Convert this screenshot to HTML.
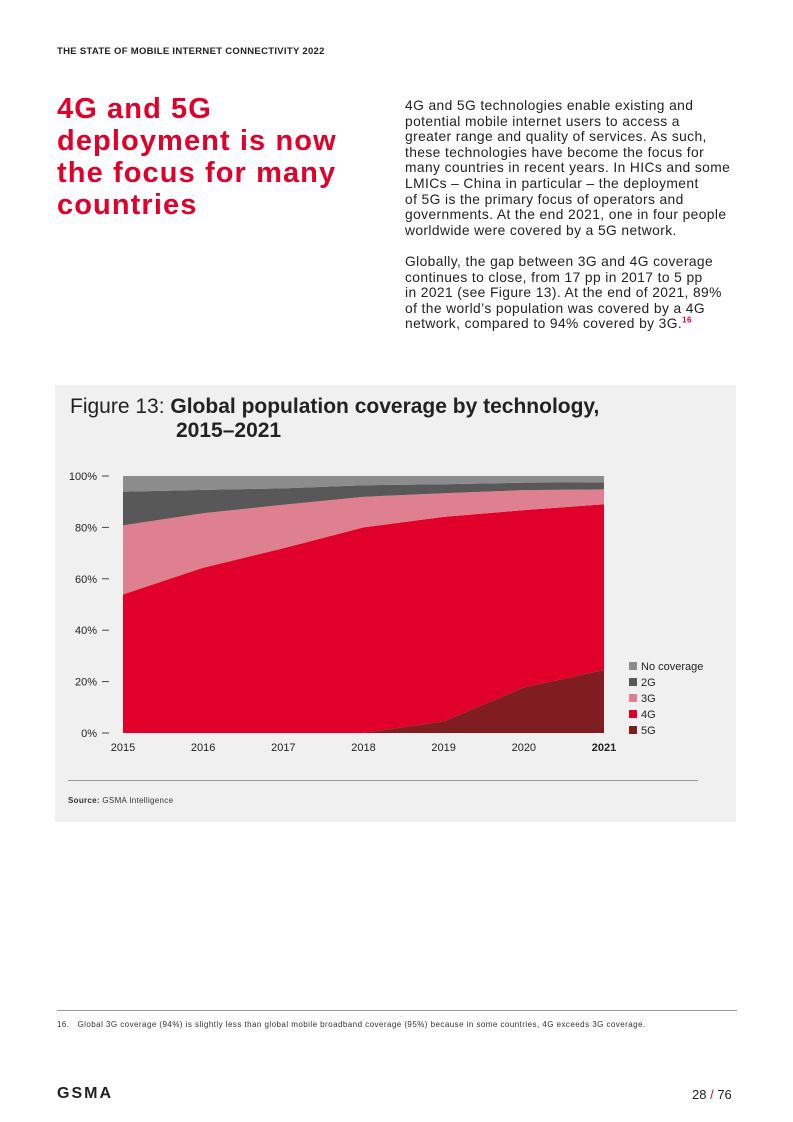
<!DOCTYPE html>
<html><head><meta charset="utf-8"><style>
body{margin:0;width:793px;height:1122px;background:#fff;font-family:"Liberation Sans",sans-serif;position:relative;overflow:hidden;color:#222}
.abs{position:absolute}
</style></head><body>
<div class="abs" style="left:57px;top:46px;font-size:9.5px;font-weight:bold;color:#222;letter-spacing:0.3px">THE STATE OF MOBILE INTERNET CONNECTIVITY 2022</div>
<div class="abs" style="left:57px;top:93px;width:310px;font-size:29px;line-height:32px;font-weight:bold;color:#e0002a;letter-spacing:1.1px">4G and 5G deployment is now the focus for many countries</div>
<div class="abs" style="left:405px;top:98px;width:340px;white-space:nowrap;font-size:13.8px;line-height:15.6px;color:#222;letter-spacing:0.4px">4G and 5G technologies enable existing and<br>potential mobile internet users to access a<br>greater range and quality of services. As such,<br>these technologies have become the focus for<br>many countries in recent years. In HICs and some<br>LMICs – China in particular – the deployment<br>of 5G is the primary focus of operators and<br>governments. At the end 2021, one in four people<br>worldwide were covered by a 5G network.<br><br>Globally, the gap between 3G and 4G coverage<br>continues to close, from 17 pp in 2017 to 5 pp<br>in 2021 (see Figure 13). At the end of 2021, 89%<br>of the world’s population was covered by a 4G<br>network, compared to 94% covered by 3G.<sup style="color:#e0002a;font-size:8px;font-weight:bold;line-height:0">16</sup></div>
<div class="abs" style="left:55px;top:385px;width:681px;height:437px;background:#f0f0f0"></div>
<div class="abs" style="left:70px;top:395px;font-size:21px;line-height:24px;color:#222">Figure 13: <b>Global population coverage by technology,</b><br><b style="padding-left:106px">2015–2021</b></div>
<svg class="abs" style="left:0;top:0" width="793" height="1122">
<g id="chart"></g>
</svg>
<div class="abs" style="left:68px;top:780px;width:630px;height:1px;background:#999"></div>
<div class="abs" style="left:68px;top:796px;font-size:8px;color:#333;letter-spacing:0.3px"><b>Source:</b> GSMA Intelligence</div>
<div class="abs" style="left:57px;top:1010px;width:680px;height:1px;background:#999"></div>
<div class="abs" style="left:57px;top:1020px;font-size:8px;color:#333;letter-spacing:0.45px">16.&nbsp;&nbsp;&nbsp;Global 3G coverage (94%) is slightly less than global mobile broadband coverage (95%) because in some countries, 4G exceeds 3G coverage.</div>
<div class="abs" style="left:57px;top:1085px;font-size:16px;font-weight:bold;letter-spacing:2px;color:#222">GSMA</div>
<div class="abs" style="left:692px;top:1087px;font-size:13px;color:#222">28 <span style="color:#e0002a">/</span> 76</div>
<script>
const years=["2015","2016","2017","2018","2019","2020","2021"];
const s5G=[0,0,0,0,4.5,17.7,24.5];
const s4G=[53.9,64.3,71.9,80,79.6,69,64.5];
const s3G=[26.9,21.2,16.9,11.9,9.2,7.8,5.8];
const s2G=[13.1,9.1,6.4,4.5,3.5,2.9,2.7];
const sNone=[6.1,5.4,4.8,3.6,3.2,2.6,2.5];
const yTicks=[0,20,40,60,80,100];
const NS="http://www.w3.org/2000/svg";
const g=document.getElementById('chart');
const X0=123,X1=604,Y0=733,Y1=476;
const xs=i=>X0+(X1-X0)*i/(years.length-1);
const ys=v=>Y0-(Y0-Y1)*v/100;
function mk(t,a){const e=document.createElementNS(NS,t);for(const k in a)e.setAttribute(k,a[k]);g.appendChild(e);return e;}
const series=[[s5G,"#7f1d20","area-5g"],[s4G,"#e0002a","area-4g"],[s3G,"#df8090","area-3g"],[s2G,"#585858","area-2g"],[sNone,"#8c8c8c","area-no-coverage"]];
let base=years.map(()=>0);
series.forEach(([d,c,n])=>{
  const top=base.map((b,i)=>b+d[i]);
  let p=top.map((v,i)=>xs(i)+","+ys(v)).join(" ")+" "+base.map((v,i)=>xs(i)+","+ys(v)).reverse().join(" ");
  const e=mk("polygon",{points:p,fill:c});
  
  
  base=top;
});
yTicks.forEach(v=>{
  const t=mk("text",{x:97,y:ys(v)+4,"font-size":"11","text-anchor":"end",fill:"#222","font-family":"Liberation Sans"});
  t.textContent=v+"%";
  
  
  const l=mk("line",{x1:102,x2:109,y1:ys(v),y2:ys(v),stroke:"#444","stroke-width":1});
  
  
});
years.forEach((y,i)=>{
  const t=mk("text",{x:xs(i),y:751,"font-size":"11","text-anchor":"middle",fill:"#222","font-family":"Liberation Sans","font-weight":i==years.length-1?"bold":"normal"});
  t.textContent=y;
  
  
});
const leg=[["No coverage","#8c8c8c"],["2G","#585858"],["3G","#df8090"],["4G","#e0002a"],["5G","#7f1d20"]];
leg.forEach(([n,c],i)=>{
  const r=mk("rect",{x:629,y:662+i*16,width:8,height:8,fill:c});
  
  
  const t=mk("text",{x:641,y:670+i*16,"font-size":"11",fill:"#222","font-family":"Liberation Sans"});
  t.textContent=n;
  
  
});
</script>
</body></html>
